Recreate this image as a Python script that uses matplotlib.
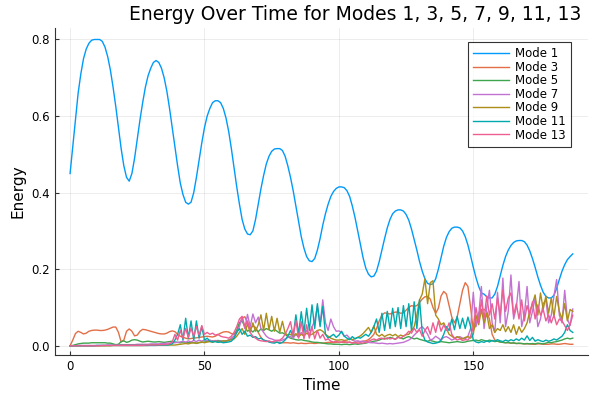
import numpy as np
import matplotlib
matplotlib.use("Agg")
import matplotlib.pyplot as plt

# time axis (one sample per time unit)
time = np.arange(188)

# energies, in hundredths
mode1 = [45, 52, 59, 66, 71, 75, 77.5, 79, 79.8, 80,
         80, 80, 79.5, 78, 75.5, 72, 67.5, 62.5, 57, 51.5,
         47, 44, 43, 45, 49, 54, 59, 63.5, 67.5, 70.5,
         72.5, 74, 74.5, 74, 72.5, 70, 66.5, 62, 57, 52,
         47, 42.5, 39.5, 37.5, 37, 37.5, 40, 44, 48.5, 53,
         57, 60, 62, 63.5, 64, 64, 63.5, 62, 59.5, 56,
         51.5, 46.5, 41.5, 37, 33, 30.5, 29.2, 29, 30, 33,
         37, 41, 44.5, 47.5, 49.5, 50.8, 51.4, 51.5, 51.5, 51,
         49.5, 47, 44, 40.5, 36.5, 32.5, 28.5, 25.5, 23.3, 22.2,
         22, 22.8, 25, 28, 31.5, 34.5, 37, 39, 40.3, 41.1,
         41.5, 41.5, 41.3, 40.5, 39, 36.5, 33.5, 30, 26.5, 23,
         20.3, 18.7, 18, 18.2, 19.5, 22, 25, 28, 30.8, 33,
         34.5, 35.2, 35.5, 35.5, 35.2, 34.3, 32.8, 30.5, 27.8, 25,
         22, 19.5, 17.5, 16.3, 16, 16.2, 17.5, 20, 23, 26,
         28.3, 29.8, 30.7, 31, 31, 30.8, 30, 28.5, 26.3, 23.5,
         20.5, 17.8, 15.5, 13.8, 13.5, 12.8, 12.5, 12.5, 13.5, 15.5,
         18.3, 21, 23.3, 25, 26.2, 27, 27.4, 27.5, 27.5, 27.2,
         26.3, 24.8, 22.8, 20.5, 18, 15.8, 14, 12.9, 12.5, 12.5,
         13.2, 15, 17.3, 19.5, 21.2, 22.5, 23.3, 24]

mode3 = [0, 1.5, 3.2, 3.8, 3.5, 3.1, 3.3, 3.8, 4.0, 4.1,
         4.1, 4.0, 4.0, 4.1, 4.3, 4.6, 4.9, 4.9, 3.5, 1.0,
         1.5, 3.8, 4.4, 3.8, 2.6, 2.8, 3.8, 4.3, 4.2, 4.0,
         3.8, 3.6, 3.4, 3.2, 3.1, 3.1, 3.3, 3.7, 3.9, 3.7,
         3.0, 2.5, 2.2, 2.0, 1.8, 1.9, 2.0, 2.1, 2.2, 2.3,
         2.4, 2.5, 2.4, 2.3, 2.5, 2.9, 3.3, 3.6, 3.7, 3.6,
         3.2, 3.0, 4.0, 5.8, 7.2, 7.6, 6.0, 4.5, 5.2, 4.8,
         3.5, 2.2, 1.5, 1.2, 1.1, 1.0, 1.0, 0.9, 0.9, 0.8,
         0.8, 0.8, 0.7, 0.8, 0.7, 0.6, 0.7, 0.6, 0.6, 0.7,
         0.7, 0.6, 0.7, 0.8, 0.7, 0.8, 0.9, 0.9, 0.8, 0.9,
         1.0, 0.9, 0.9, 1.0, 0.9, 0.8, 0.9, 1.0, 1.1, 1.2,
         1.3, 1.6, 2.2, 3.0, 4.5, 6.5, 8.0, 8.6, 8.5, 8.3,
         8.6, 8.8, 8.8, 8.5, 8.6, 9.3, 10.0, 10.5, 10.3, 10.5,
         11.3, 12.2, 12.8, 12.9, 12.2, 10.0, 8.5, 9.8, 13.0, 14.2,
         13.5, 10.5, 7.5, 6.0, 7.5, 11.0, 14.5, 16.5, 15.5, 10.0,
         4.0, 5.5, 8.5, 9.5, 9.5, 9.0, 7.0, 3.0, 1.5, 1.2,
         1.0, 0.9, 0.8, 0.8, 0.7, 0.7, 0.6, 0.6, 0.6, 0.5,
         0.5, 0.5, 0.4, 0.4, 0.5, 0.5, 0.4, 0.4, 0.4, 0.5,
         0.5, 0.4, 0.4, 0.5, 0.6, 0.5, 0.4, 0.4]

mode5 = [0, 0.1, 0.3, 0.5, 0.6, 0.7, 0.7, 0.7, 0.8, 0.8,
         0.8, 0.8, 0.8, 0.8, 0.7, 0.7, 0.5, 0.3, 0.4, 1.1,
         1.3, 0.9, 1.1, 1.5, 1.6, 1.5, 1.2, 1.0, 1.1, 1.2,
         1.1, 1.0, 1.0, 1.1, 1.0, 0.9, 1.0, 1.1, 1.2, 1.0,
         0.9, 0.8, 1.0, 0.9, 0.8, 0.9, 0.8, 0.7, 0.8, 0.9,
         1.0, 1.1, 1.2, 1.3, 1.3, 1.4, 1.3, 1.2, 1.3, 1.5,
         1.8, 2.5, 4.0, 6.0, 6.5, 5.0, 3.8, 4.2, 3.6, 4.3,
         3.7, 4.4, 4.0, 4.5, 4.2, 3.8, 4.3, 3.8, 3.3, 3.4,
         3.0, 2.4, 2.0, 1.8, 1.6, 1.5, 1.6, 1.4, 1.3, 1.2,
         1.0, 0.9, 0.9, 0.8, 0.7, 0.6, 0.5, 0.5, 0.4, 0.4,
         0.4, 0.3, 0.4, 0.4, 0.3, 0.4, 0.5, 0.4, 0.5, 0.6,
         0.7, 0.9, 1.0, 1.2, 1.3, 1.5, 1.8, 2.0, 1.8, 2.2,
         2.0, 1.7, 2.3, 2.0, 1.8, 2.2, 2.4, 2.1, 1.8, 2.0,
         1.7, 1.5, 1.3, 1.2, 1.4, 1.2, 1.0, 0.9, 1.1, 1.0,
         0.9, 0.8, 0.9, 1.0, 1.1, 1.0, 0.9, 1.0, 1.2, 1.3,
         1.4, 1.5, 1.3, 1.6, 1.4, 1.2, 1.5, 1.3, 1.1, 1.2,
         1.0, 0.9, 0.8, 0.9, 0.7, 0.8, 0.6, 0.7, 0.6, 0.5,
         0.6, 0.5, 0.6, 0.5, 0.7, 0.6, 0.5, 0.7, 0.9, 0.8,
         1.0, 1.1, 1.3, 1.5, 1.8, 2.0, 1.8, 2.0]

mode7 = [0, 0, 0, 0.1, 0.1, 0.1, 0.1, 0.1, 0.1, 0.1,
         0.1, 0.1, 0.1, 0.1, 0.2, 0.2, 0.2, 0.2, 0.2, 0.3,
         0.3, 0.3, 0.3, 0.3, 0.3, 0.4, 0.4, 0.4, 0.4, 0.4,
         0.5, 0.5, 0.5, 0.5, 0.6, 0.6, 0.7, 0.7, 0.8, 0.8,
         0.9, 1.0, 1.2, 0.9, 1.3, 1.0, 1.4, 1.1, 1.5, 1.2,
         1.6, 1.3, 1.5, 1.2, 1.4, 1.1, 1.3, 1.0, 1.2, 1.5,
         2.0, 2.5, 3.5, 5.0, 7.5, 4.5, 8.2, 5.0, 8.3, 6.0,
         7.5, 4.5, 3.5, 2.5, 2.0, 1.8, 1.5, 1.4, 1.3, 1.5,
         1.8, 2.2, 2.5, 2.0, 3.0, 2.2, 3.5, 2.5, 4.0, 3.0,
         5.0, 6.5, 10.3, 5.5, 12.0, 6.0, 4.0, 7.0, 5.0, 3.8,
         3.9, 3.5, 2.5, 2.8, 2.0, 1.5, 1.2, 1.3, 1.1, 1.2,
         1.0, 0.9, 0.8, 0.8, 0.7, 0.6, 0.7, 0.6, 0.5, 0.6,
         0.5, 0.6, 0.7, 0.8, 0.9, 1.2, 1.5, 2.0, 2.8, 3.5,
         4.5, 5.0, 4.2, 3.0, 1.5, 1.8, 2.5, 2.0, 1.5, 2.2,
         2.4, 2.0, 1.5, 1.8, 2.2, 2.4, 2.0, 1.8, 2.5, 4.5,
         14.0, 5.0, 8.0, 15.5, 4.5, 10.0, 14.5, 6.0, 3.5, 14.0,
         6.0, 17.7, 5.0, 9.0, 18.5, 7.0, 10.0, 16.8, 5.0, 8.0,
         15.5, 6.0, 9.0, 12.5, 5.0, 7.0, 11.0, 12.0, 6.0, 8.0,
         13.0, 17.3, 8.0, 6.0, 14.5, 7.0, 5.3, 9.6]

mode9 = [0, 0, 0, 0, 0, 0, 0, 0, 0, 0,
         0, 0, 0, 0, 0, 0, 0.1, 0.1, 0.1, 0.1,
         0.1, 0.1, 0.1, 0.1, 0.1, 0.1, 0.1, 0.1, 0.1, 0.1,
         0.2, 0.2, 0.2, 0.2, 0.2, 0.2, 0.2, 0.2, 0.2, 0.2,
         0.3, 0.4, 0.5, 0.6, 0.5, 0.7, 0.8, 0.6, 0.9, 1.0,
         0.8, 1.0, 1.1, 0.9, 1.2, 1.0, 1.1, 1.3, 1.2, 1.4,
         1.6, 1.8, 2.5, 3.5, 4.5, 3.0, 5.8, 3.5, 6.0, 3.8,
         5.5, 8.1, 4.0, 8.5, 4.2, 7.7, 3.8, 7.2, 3.5, 6.4,
         3.3, 2.8, 3.0, 2.5, 3.2, 2.4, 3.0, 2.6, 3.3, 2.8,
         3.0, 3.5, 4.0, 4.2, 3.8, 3.0, 2.5, 2.0, 1.7, 1.5,
         1.5, 1.6, 1.4, 1.5, 1.8, 1.6, 1.9, 2.2, 2.6, 3.2,
         4.0, 4.8, 3.5, 5.2, 3.0, 2.5, 3.0, 2.4, 2.8, 3.0,
         2.6, 3.0, 2.4, 2.8, 2.5, 2.9, 3.0, 4.0, 5.0, 8.0,
         12.0, 13.5, 17.5, 11.0, 16.5, 17.0, 8.0, 7.0, 5.5, 6.0,
         4.5, 3.0, 2.5, 2.0, 2.4, 2.0, 1.8, 2.2, 2.4, 2.0,
         3.0, 8.0, 5.5, 9.4, 6.0, 8.5, 4.5, 5.5, 3.5, 4.5,
         4.0, 5.5, 3.7, 5.0, 3.5, 5.5, 3.0, 5.0, 3.5, 4.5,
         6.0, 9.0, 11.0, 13.3, 8.0, 13.8, 9.5, 13.0, 8.5, 12.5,
         7.5, 12.9, 9.0, 7.0, 11.0, 6.5, 9.5, 9.0]

mode11 = [0, 0, 0, 0, 0, 0, 0, 0, 0, 0,
          0.1, 0.1, 0.1, 0.1, 0.1, 0.1, 0.1, 0.1, 0.1, 0.1,
          0.1, 0.1, 0.1, 0.1, 0.1, 0.1, 0.1, 0.1, 0.1, 0.1,
          0.1, 0.1, 0.1, 0.2, 0.2, 0.2, 0.2, 0.3, 0.5, 1.5,
          3.0, 5.5, 1.5, 7.2, 2.0, 6.5, 1.5, 6.5, 2.0, 5.0,
          1.5, 2.0, 1.2, 1.0, 1.1, 0.9, 1.0, 0.8, 0.9, 1.0,
          1.2, 2.0, 3.5, 4.5, 3.0, 3.8, 2.5, 2.8, 2.2, 2.4,
          1.8, 2.0, 1.5, 1.3, 1.0, 0.8, 0.7, 1.0, 0.6, 0.9,
          1.5, 2.5, 4.0, 2.5, 8.1, 3.0, 8.9, 3.5, 9.8, 4.0,
          10.7, 4.5, 11.0, 5.0, 10.3, 3.0, 2.0, 2.5, 3.0, 2.2,
          2.8, 3.8, 2.5, 2.0, 1.6, 2.4, 1.8, 2.2, 2.0, 2.5,
          3.0, 2.5, 3.5, 5.0, 7.0, 3.5, 8.5, 4.0, 9.0, 4.5,
          9.8, 5.0, 10.0, 4.5, 10.5, 5.0, 11.0, 4.0, 11.5, 4.5,
          12.0, 3.5, 1.5, 1.0, 0.8, 0.6, 0.7, 0.9, 1.5, 3.0,
          5.0, 4.0, 7.0, 4.2, 7.7, 4.5, 7.2, 4.5, 7.5, 5.0,
          1.5, 1.0, 0.8, 1.1, 0.9, 1.3, 1.0, 1.4, 1.2, 1.6,
          1.3, 1.1, 1.5, 1.2, 1.6, 1.3, 1.8, 1.4, 2.0, 1.5,
          2.6, 1.4, 2.2, 1.2, 1.6, 1.3, 1.1, 1.5, 1.2, 1.4,
          1.8, 1.5, 2.0, 2.5, 3.5, 5.5, 4.0, 3.5]

mode13 = [0, 0, 0, 0, 0, 0, 0, 0, 0, 0,
          0, 0, 0.1, 0.1, 0.1, 0.1, 0.1, 0.1, 0.1, 0.1,
          0.1, 0.1, 0.1, 0.1, 0.1, 0.1, 0.1, 0.1, 0.2, 0.2,
          0.2, 0.2, 0.2, 0.3, 0.3, 0.3, 0.4, 0.5, 1.0, 3.0,
          1.5, 4.0, 2.0, 4.5, 2.2, 4.6, 2.5, 5.0, 2.8, 5.3,
          3.0, 3.5, 3.0, 3.3, 2.8, 3.0, 2.5, 2.3, 2.2, 2.0,
          2.5, 3.5, 5.0, 7.0, 7.7, 5.0, 6.5, 3.5, 2.5, 2.0,
          1.5, 1.3, 1.2, 1.1, 1.3, 1.0, 1.2, 1.4, 1.5, 2.0,
          3.0, 4.5, 6.3, 2.5, 6.6, 2.0, 6.3, 1.8, 5.5, 2.0,
          5.0, 1.8, 4.0, 2.0, 3.0, 1.5, 1.8, 1.2, 1.0, 1.2,
          0.9, 1.0, 1.2, 0.8, 1.0, 0.7, 0.9, 0.6, 0.8, 0.7,
          0.9, 1.2, 1.5, 1.8, 1.5, 1.9, 2.0, 1.7, 2.1, 1.8,
          2.0, 1.7, 2.2, 2.0, 2.5, 3.0, 3.8, 3.3, 4.6, 3.5,
          4.2, 2.5, 4.0, 5.0, 3.0, 6.0, 3.5, 6.5, 3.8, 5.5,
          4.0, 6.0, 3.0, 2.0, 1.5, 1.8, 1.4, 1.6, 1.5, 2.5,
          5.0, 10.0, 6.0, 12.0, 7.0, 13.0, 8.0, 11.0, 7.0, 12.5,
          8.0, 14.6, 9.0, 12.5, 13.8, 8.0, 11.0, 7.0, 12.0, 6.5,
          10.5, 8.0, 11.5, 7.0, 10.7, 8.0, 9.5, 6.5, 8.1, 6.0,
          8.0, 5.5, 7.0, 6.5, 5.3, 4.0, 5.5, 8.0]

labels = ["Mode 1", "Mode 3", "Mode 5", "Mode 7", "Mode 9", "Mode 11", "Mode 13"]
colors = ["#009afa", "#e36f47", "#3ea44e", "#c371d2", "#ac8e18", "#00a9ad", "#ed5e93"]
series = [mode1, mode3, mode5, mode7, mode9, mode11, mode13]

fig = plt.figure(figsize=(6, 4), dpi=100)
ax = fig.add_axes([0.0917, 0.1125, 0.888, 0.8175])

for vals, lab, col in zip(series, labels, colors):
    ax.plot(time, np.array(vals) / 100, color=col, lw=1.0, label=lab)

ax.set_xlim(-5.6, 192.6)
ax.set_ylim(-0.024, 0.83)
ax.set_xticks([0, 50, 100, 150])
ax.set_yticks([0.0, 0.2, 0.4, 0.6, 0.8])
ax.set_yticklabels(["0.0", "0.2", "0.4", "0.6", "0.8"])
ax.grid(True, color="black", alpha=0.1, lw=0.5)
for s in ["top", "right"]:
    ax.spines[s].set_visible(False)
for s in ["left", "bottom"]:
    ax.spines[s].set_color("#333333")
ax.tick_params(direction="in", length=3, labelsize=8.5, colors="#333333", labelcolor="black")

ax.set_xlabel("Time", fontsize=11)
ax.set_ylabel("Energy", fontsize=11)
fig.text(355 / 600, 1 - 14 / 400, "Energy Over Time for Modes 1, 3, 5, 7, 9, 11, 13",
         ha="center", va="center", fontsize=13.5)

leg = ax.legend(loc="upper right", bbox_to_anchor=(0.968, 0.958), fontsize=8.5,
                frameon=True, fancybox=False, handlelength=3.0, labelspacing=0.05,
                borderpad=0.45, handletextpad=0.5, borderaxespad=0)
leg.get_frame().set_edgecolor("black")
leg.get_frame().set_linewidth(0.8)

plt.savefig("out.png")
